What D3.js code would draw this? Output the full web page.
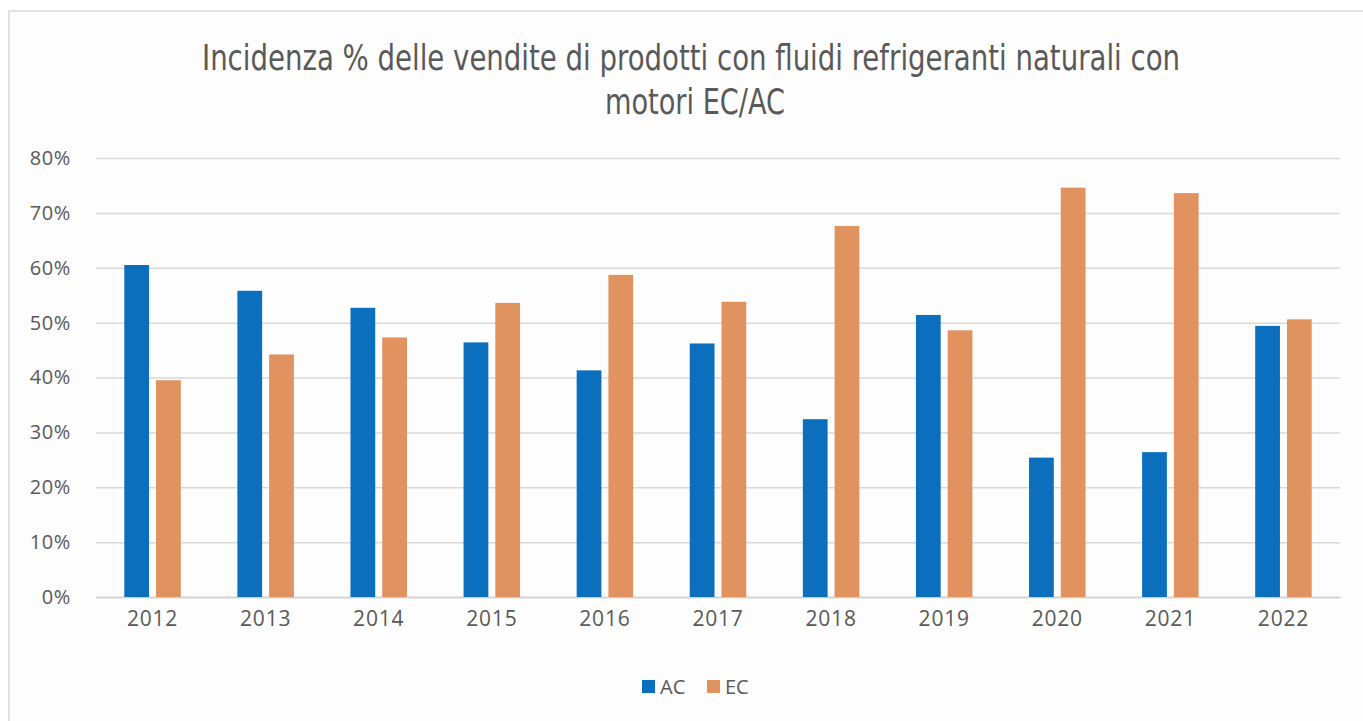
<!DOCTYPE html>
<html>
<head>
<meta charset="utf-8">
<script src="https://cdn.jsdelivr.net/npm/d3@7"></script>
<style>
  html, body { margin: 0; padding: 0; background: #ffffff; }
  svg { display: block; }
</style>
</head>
<body>
<script>
// Share of sales of natural-refrigerant products, AC vs EC motors (%)
const years = ["2012", "2013", "2014", "2015", "2016", "2017", "2018", "2019", "2020", "2021", "2022"];
const acValues = [60.5, 55.8, 52.7, 46.4, 41.3, 46.2, 32.4, 51.4, 25.4, 26.4, 49.4];
const ecValues = [39.5, 44.2, 47.3, 53.6, 58.7, 53.8, 67.6, 48.6, 74.6, 73.6, 50.6];
const seriesNames = ["AC", "EC"];
const yTicks = [0, 10, 20, 30, 40, 50, 60, 70, 80];
const titleLines = [
  "Incidenza % delle vendite di prodotti con fluidi refrigeranti naturali con",
  "motori EC/AC"
];

const W = 1363, H = 721;
const colors = { AC: "#0B6FBE", EC: "#E0925F" };
const textColor = "#595959";
const labelFont = "'Open Sans', 'Noto Sans', sans-serif";

const svg = d3.select("body").append("svg")
  .attr("width", W).attr("height", H);

// chart frame
svg.append("rect").attr("x", 9).attr("y", 11).attr("width", W).attr("height", H)
  .attr("fill", "#fdfdfd").attr("stroke", "#e2e2e2").attr("stroke-width", 2);

// title, set in a narrow face
const titleG = svg.append("g");
const titleX = [691, 695];
const titleY = [70, 114];
const titleW = [978, 180];
titleLines.forEach((t, i) => {
  titleG.append("text")
    .attr("x", titleX[i]).attr("y", titleY[i])
    .attr("text-anchor", "middle")
    .attr("font-family", "'Liberation Sans Narrow', 'DejaVu Sans Condensed', 'Liberation Sans', sans-serif")
    .attr("font-size", 35)
    .attr("fill", textColor)
    .attr("textLength", titleW[i])
    .attr("lengthAdjust", "spacingAndGlyphs")
    .text(t);
});

const plot = { left: 96, right: 1340, top: 158, bottom: 597 };

const x0 = d3.scaleBand().domain(years).range([plot.left, plot.right]).paddingInner(0).paddingOuter(0);
const groupW = 56.5;
const x1 = d3.scaleBand().domain(seriesNames)
  .range([(x0.bandwidth() - groupW) / 2, (x0.bandwidth() + groupW) / 2])
  .paddingInner(0.22).paddingOuter(0);
const y = d3.scaleLinear().domain([0, 80]).range([plot.bottom, plot.top]);

// gridlines
svg.append("g")
  .attr("transform", `translate(${plot.left},0)`)
  .call(d3.axisLeft(y).tickValues(yTicks).tickSize(-(plot.right - plot.left)).tickFormat(""))
  .call(g => g.select(".domain").remove())
  .call(g => g.selectAll(".tick line").attr("stroke", "#d9d9d9").attr("stroke-width", 1.5));

// y tick labels
svg.append("g")
  .attr("transform", `translate(${plot.left - 25},0)`)
  .call(d3.axisLeft(y).tickValues(yTicks).tickSize(0).tickPadding(0).tickFormat(d => d + "%"))
  .call(g => g.select(".domain").remove())
  .call(g => g.selectAll("text")
    .attr("font-family", labelFont)
    .attr("font-size", 20).attr("letter-spacing", 0.6).attr("fill", textColor));

// x axis
svg.append("g")
  .attr("transform", `translate(0,${plot.bottom})`)
  .call(d3.axisBottom(x0).tickSize(0).tickPadding(14))
  .call(g => g.select(".domain").attr("stroke", "#d0d0d0").attr("stroke-width", 1.5))
  .call(g => g.selectAll("text")
    .attr("font-family", labelFont)
    .attr("font-size", 21).attr("letter-spacing", 0.8).attr("fill", textColor));

// bars
const rows = years.map((yr, i) => ({ year: yr, AC: acValues[i], EC: ecValues[i] }));
const groups = svg.append("g").selectAll("g").data(rows).join("g")
  .attr("transform", d => `translate(${x0(d.year)},0)`);
groups.selectAll("rect")
  .data(d => seriesNames.map(k => ({ key: k, value: d[k] })))
  .join("rect")
  .attr("x", d => x1(d.key))
  .attr("width", x1.bandwidth())
  .attr("y", d => y(d.value))
  .attr("height", d => y(0) - y(d.value))
  .attr("fill", d => colors[d.key]);

// legend
const legend = svg.append("g").attr("transform", "translate(642,680)");
const legendX = [0, 65];
seriesNames.forEach((k, i) => {
  const g = legend.append("g").attr("transform", `translate(${legendX[i]},0)`);
  g.append("rect").attr("width", 13).attr("height", 13).attr("fill", colors[k]);
  g.append("text").attr("x", 18).attr("y", 13.5)
    .attr("font-family", labelFont)
    .attr("font-size", 20).attr("fill", textColor)
    .text(k);
});
</script>
</body>
</html>
